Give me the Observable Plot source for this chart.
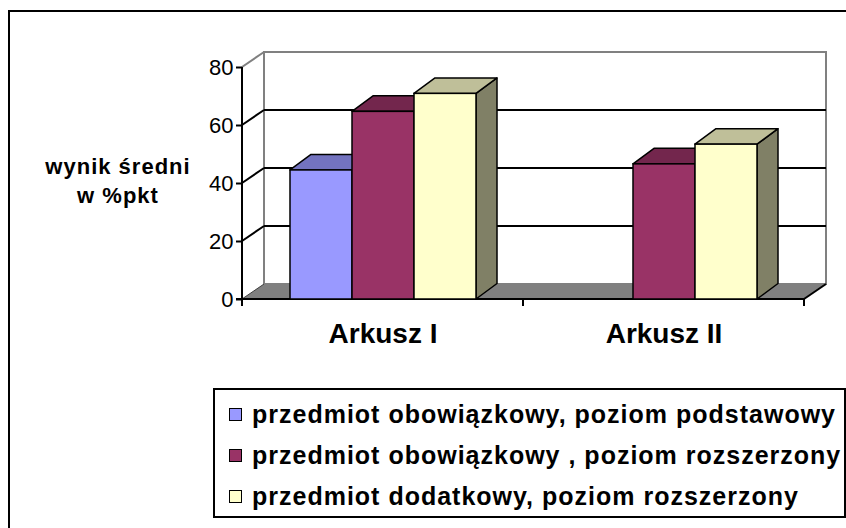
<!DOCTYPE html>
<html>
<head>
<meta charset="utf-8">
<script src="https://cdn.jsdelivr.net/npm/d3@7"></script>
<script src="https://cdn.jsdelivr.net/npm/@observablehq/plot@0.6"></script>
<style>
  html, body { margin: 0; padding: 0; background: #fff; overflow: hidden; }
  #root { position: relative; width: 846px; height: 528px; overflow: hidden; font-family: "Liberation Sans", Arial, sans-serif; }
  #frame { position: absolute; left: 8px; top: 10px; width: 1000px; height: 1000px; border-left: 2.5px solid #000; border-top: 2.5px solid #000; }
  #chart { position: absolute; left: 0; top: 0; }
  #ylabel { position: absolute; left: 18px; top: 152px; width: 200px; text-align: center; font-weight: bold; font-size: 22px; line-height: 29px; letter-spacing: 1px; color: #000; }
  #legend { position: absolute; left: 213px; top: 388px; width: 633px; height: 130px; box-sizing: border-box; border: 2px solid #000; padding: 4px 0 0 14px; background: #fff; }
  .row { height: 41px; display: flex; align-items: center; }
  .sw { width: 11px; height: 11px; border: 1.5px solid #000; margin-right: 10px; flex: none; }
  .lt { font-weight: bold; font-size: 25px; letter-spacing: 1px; color: #000; white-space: pre; }
</style>
</head>
<body>
<div id="root">
  <div id="frame"></div>
  <div id="chart"></div>
  <div id="ylabel"></div>
  <div id="legend"></div>
</div>
<script>
// ---- data ----
const categories = ["Arkusz I", "Arkusz II"];
const series = [
  "przedmiot obowiązkowy, poziom podstawowy",
  "przedmiot obowiązkowy , poziom rozszerzony",
  "przedmiot dodatkowy, poziom rozszerzony"
];
const obowiazkowyPodstawowy = [44.5, null];
const obowiazkowyRozszerzony = [64.7, 46.6];
const dodatkowyRozszerzony = [70.9, 53.4];
const colors = ["#9999ff", "#993366", "#ffffcc"];
const yTicks = [0, 20, 40, 60, 80];
const yLabelLines = ["wynik średni", "w %pkt"];

const seriesValues = [obowiazkowyPodstawowy, obowiazkowyRozszerzony, dodatkowyRozszerzony];
const rows = [];
categories.forEach((cat, ci) => {
  series.forEach((s, si) => {
    const v = seriesValues[si][ci];
    if (v != null) rows.push({cat, series: s, value: v});
  });
});

const plot = Plot.plot({
  width: 846,
  height: 370,
  marginLeft: 241,
  marginRight: 42,
  marginTop: 67,
  marginBottom: 71,
  style: {fontFamily: "'Liberation Sans', Arial, sans-serif", color: "black", background: "transparent", overflow: "visible"},
  fx: {domain: categories, padding: 0},
  x: {domain: series, paddingInner: 0, paddingOuter: 0.738, axis: null},
  y: {domain: [0, 80]},
  color: {domain: series, range: colors},
  marks: [
    Plot.barY(rows, {fx: "cat", x: "series", y: "value", fill: "series", stroke: "black", strokeWidth: 1.5}),
    Plot.axisY({ticks: yTicks, tickSize: 6, tickPadding: 3, fontSize: 22, strokeWidth: 2, label: null}),
    Plot.axisFx({anchor: "bottom", tickSize: 0, tickPadding: 24, fontSize: 28, fontWeight: "bold", label: null})
  ]
});
document.getElementById("chart").appendChild(plot);

// ---- 3D decorations drawn from the plot's own scales ----
const NS = "http://www.w3.org/2000/svg";
const fxS = plot.scale("fx"), yS = plot.scale("y");
const xL = fxS.apply(categories[0]);
const xR = fxS.apply(categories[categories.length - 1]) + fxS.bandwidth;
const y0 = yS.apply(0), yTop = yS.apply(yTicks[yTicks.length - 1]);
const DX = 22, DY = -15;   // wall depth
const BDX = 21, BDY = -15.5; // bar depth

function el(tag, attrs) {
  const e = document.createElementNS(NS, tag);
  for (const k in attrs) e.setAttribute(k, attrs[k]);
  return e;
}
const deco = el("g", {"aria-label": "walls"});
// back wall
deco.appendChild(el("rect", {x: xL + DX, y: yTop + DY, width: xR - xL, height: y0 - yTop, fill: "#fff", stroke: "#808080", "stroke-width": 2}));
// left wall top edge
deco.appendChild(el("line", {x1: xL, y1: yTop, x2: xL + DX, y2: yTop + DY, stroke: "#808080", "stroke-width": 2}));
// gridlines on back and side wall
yTicks.slice(1, -1).forEach(v => {
  const yy = yS.apply(v);
  deco.appendChild(el("line", {x1: xL + DX, y1: yy + DY, x2: xR + DX, y2: yy + DY, stroke: "#000", "stroke-width": 2}));
  deco.appendChild(el("line", {x1: xL, y1: yy, x2: xL + DX, y2: yy + DY, stroke: "#000", "stroke-width": 2}));
});
// floor
deco.appendChild(el("path", {d: `M${xL},${y0}L${xR},${y0}L${xR + DX},${y0 + DY}L${xL + DX},${y0 + DY}Z`, fill: "#808080"}));
deco.appendChild(el("line", {x1: xL, y1: y0, x2: xL + DX, y2: y0 + DY, stroke: "#404040", "stroke-width": 1}));
deco.appendChild(el("line", {x1: xR, y1: y0, x2: xR + DX, y2: y0 + DY, stroke: "#000", "stroke-width": 2}));
// front axes
deco.appendChild(el("line", {x1: xL, y1: yTop, x2: xL, y2: y0, stroke: "#000", "stroke-width": 2}));
deco.appendChild(el("line", {x1: xL - 6, y1: y0, x2: xR, y2: y0, stroke: "#000", "stroke-width": 2}));
categories.forEach((c, i) => {
  const xa = fxS.apply(c);
  deco.appendChild(el("line", {x1: xa, y1: y0, x2: xa, y2: y0 + 7, stroke: "#000", "stroke-width": 2}));
});
deco.appendChild(el("line", {x1: xR, y1: y0, x2: xR, y2: y0 + 7, stroke: "#000", "stroke-width": 2}));
const firstMark = plot.querySelector("style") ? plot.querySelector("style").nextSibling : plot.firstChild;
plot.insertBefore(deco, firstMark);

// bar side and top faces
function shade(c, k) {
  const r = d3.rgb(c);
  return d3.rgb(r.r * k, r.g * k, r.b * k).formatHex();
}
plot.querySelectorAll('g[aria-label="bar"] rect').forEach(rect => {
  const x = +rect.getAttribute("x"), y = +rect.getAttribute("y");
  const w = +rect.getAttribute("width"), h = +rect.getAttribute("height");
  const fill = rect.getAttribute("fill") || rect.parentNode.getAttribute("fill");
  const p = rect.parentNode;
  const side = el("path", {d: `M${x + w},${y + h}L${x + w + BDX},${y + h + BDY}L${x + w + BDX},${y + BDY}L${x + w},${y}Z`, fill: shade(fill, 0.5), stroke: "#000", "stroke-width": 1.5, "stroke-linejoin": "round"});
  const top = el("path", {d: `M${x},${y}L${x + BDX},${y + BDY}L${x + w + BDX},${y + BDY}L${x + w},${y}Z`, fill: shade(fill, 0.75), stroke: "#000", "stroke-width": 1.5, "stroke-linejoin": "round"});
  p.insertBefore(side, rect);
  p.insertBefore(top, rect);
});

// y label
document.getElementById("ylabel").innerHTML = yLabelLines.map(t => `<div>${t}</div>`).join("");

// legend
const lg = document.getElementById("legend");
series.forEach((s, i) => {
  const row = document.createElement("div");
  row.className = "row";
  const sw = document.createElement("div");
  sw.className = "sw";
  sw.style.background = colors[i];
  const t = document.createElement("span");
  t.className = "lt";
  t.textContent = s;
  row.appendChild(sw);
  row.appendChild(t);
  lg.appendChild(row);
});
</script>
</body>
</html>
